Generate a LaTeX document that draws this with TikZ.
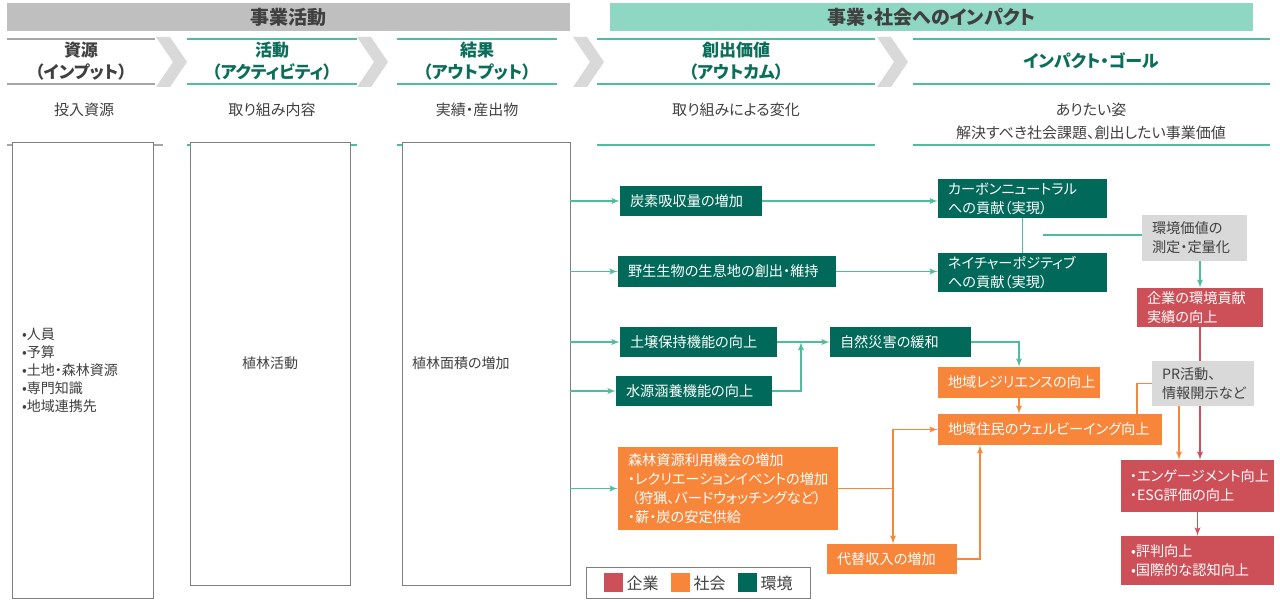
\documentclass[tikz,border=0pt]{standalone}
\usepackage{fontspec}
\setmainfont[RawFeature=+palt]{Noto Sans CJK JP}
\usepackage{xcolor}
\usepackage{tikz}
\usetikzlibrary{shapes,arrows}
\definecolor{envgreen}{HTML}{00695A}
\definecolor{envline}{HTML}{4DBE9D}
\definecolor{impbar}{HTML}{8ED8C3}
\definecolor{bizbar}{HTML}{BFBFBF}
\definecolor{chevgray}{HTML}{D9D9D9}
\definecolor{socorange}{HTML}{F7863B}
\definecolor{corpred}{HTML}{CD4F57}
\definecolor{txtgray}{HTML}{404040}
\definecolor{headgreen}{HTML}{0B6E5B}
\definecolor{framegray}{HTML}{7F7F7F}
\definecolor{rulegray}{HTML}{A6A6A6}
\tikzstyle{bar} = [rectangle, inner sep=0pt, text=txtgray, font=\fontsize{19}{22}\selectfont\bfseries]
\tikzstyle{head} = [align=center, text=headgreen, font=\fontsize{17}{22}\selectfont\bfseries]
\tikzstyle{sub} = [align=center, text=txtgray, font=\fontsize{15}{23}\selectfont]
\tikzstyle{hline} = [line width=1.2pt]
\tikzstyle{column} = [rectangle, draw=framegray, fill=white, line width=0.9pt, align=left, inner xsep=10pt, text=txtgray, font=\fontsize{14}{18}\selectfont]
\tikzstyle{block} = [rectangle, text=white, align=left, inner xsep=10pt, inner ysep=0pt, font=\fontsize{14.2}{19}\selectfont]
\tikzstyle{envblock} = [block, fill=envgreen]
\tikzstyle{socblock} = [block, fill=socorange]
\tikzstyle{corpblock} = [block, fill=corpred]
\tikzstyle{grayblock} = [block, fill=chevgray, text=txtgray]
\tikzstyle{gline} = [draw, envline, line width=1.9pt, -latex']
\tikzstyle{oline} = [draw, socorange, line width=1.9pt, -latex']
\tikzstyle{rline} = [draw, corpred, line width=1.9pt, -latex']

\begin{document}
\begin{tikzpicture}[x=1pt,y=-1pt]
\useasboundingbox (0,0) rectangle (1280,602);
\node [bar, fill=bizbar, minimum width=563, minimum height=28] (bizAct) at (288.5,17) {事業活動};
\node [bar, fill=impbar, minimum width=643, minimum height=28] (impact) at (931.5,17) {事業・社会へのインパクト};
\draw [hline, rulegray] (7,39) -- (155,39) (7,84) -- (155,84) (7,145) -- (163,145);
\draw [hline, envline] (187,39) -- (357,39) (187,84) -- (357,84) (187,145) -- (357,145);
\draw [hline, envline] (397,39) -- (557,39) (397,84) -- (557,84) (397,145) -- (560,145);
\draw [hline, envline] (597,39) -- (875,39) (597,84) -- (875,84) (597,145) -- (875,145);
\draw [hline, envline] (913,39) -- (1270,39) (913,84) -- (1270,84) (913,145) -- (1270,145);
\foreach \x in {156,357,573,877}
  \fill [chevgray] (\x,37) -- ++(14,0) -- ++(17,25) -- ++(-17,25) -- ++(-14,0) -- ++(17,-25) -- cycle;
\node [head, text=txtgray] (inHead) at (81,61) {資源\\（インプット）};
\node [head] (actHead) at (272,61) {活動\\（アクティビティ）};
\node [head] (outHead) at (477,61) {結果\\（アウトプット）};
\node [head] (outcomeHead) at (736,61) {創出価値\\（アウトカム）};
\node [head] (goalHead) at (1091,61) {インパクト・ゴール};
\node [sub] (inSub) at (84,110) {投入資源};
\node [sub] (actSub) at (272,110) {取り組み内容};
\node [sub] (outSub) at (477,110) {実績・産出物};
\node [sub] (outcomeSub) at (736,110) {取り組みによる変化};
\node [sub] (goalSub) at (1091,121.5) {ありたい姿\\解決すべき社会課題、創出したい事業価値};

\node [column, text width=121, minimum height=456] (input) at (82.5,370) {•人員\\•予算\\•土地・森林資源\\•専門知識\\•地域連携先};
\node [column, align=center, text width=140, minimum height=443] (activity) at (270,363.5) {植林活動};
\node [column, text width=148, minimum height=443] (output) at (486,363.5) {植林面積の増加};

\node [envblock, text width=122, minimum height=30] (carbon) at (691,201) {炭素吸収量の増加};
\node [envblock, text width=198, minimum height=31] (habitat) at (727,271.5) {野生生物の生息地の創出・維持};
\node [envblock, text width=137, minimum height=30] (soil) at (698.5,342) {土壌保持機能の向上};
\node [envblock, text width=136, minimum height=30] (water) at (694,391) {水源涵養機能の向上};
\node [socblock, text width=200, minimum height=83] (forestUse) at (728,488.5) {森林資源利用機会の増加\\・レクリエーションイベントの増加\\\hspace{4pt}（狩猟、バードウォッチングなど）\\・薪・炭の安定供給};
\node [envblock, text width=121, minimum height=30] (disaster) at (900.5,342) {自然災害の緩和};
\node [envblock, text width=149, minimum height=39] (carbonNeutral) at (1022.5,198.5) {カーボンニュートラル\\への貢献（実現）};
\node [envblock, text width=149, minimum height=39] (naturePos) at (1022.5,272.5) {ネイチャーポジティブ\\への貢献（実現）};
\node [grayblock, text width=85, minimum height=46] (measure) at (1194.5,238) {環境価値の\\測定・定量化};
\node [corpblock, text width=106, minimum height=39] (corpEnv) at (1200,307.5) {企業の環境貢献\\実績の向上};
\node [socblock, text width=142, minimum height=31] (resilience) at (1019,382.5) {地域レジリエンスの向上};
\node [socblock, text width=204, minimum height=31] (wellbeing) at (1050,429.5) {地域住民のウェルビーイング向上};
\node [corpblock, text width=135, inner xsep=9pt, minimum height=52] (engage) at (1197.5,486) {・エンゲージメント向上\\・ESG評価の向上};
\node [corpblock, text width=133, minimum height=49] (reputation) at (1197.5,560.5) {•評判向上\\•国際的な認知向上};
\node [socblock, text width=110, minimum height=30] (altIncome) at (892,559) {代替収入の増加};

\path [gline] (output.east |- carbon.west) -- (carbon.west);
\path [gline] (output.east |- habitat.west) -- (habitat.west);
\path [gline] (output.east |- soil.west) -- (soil.west);
\path [gline] (output.east |- water.west) -- (water.west);
\path [gline] (output.east |- forestUse.west) -- (forestUse.west);
\path [gline] (carbon.east) -- (carbon.east -| carbonNeutral.west);
\path [gline] (habitat.east) -- (habitat.east -| naturePos.west);
\path [gline, -] (carbonNeutral.south) -- (naturePos.north);
\coordinate (valueTap) at (1043,235);
\path [gline, -] (valueTap) -- (valueTap -| measure.west);
\path [gline] (corpEnv.north |- measure.south) -- (corpEnv.north);
\path [gline] (soil.east) -- (disaster.west);
\coordinate (soilJoin) at (801,342);
\path [gline] (water.east) -| (soilJoin);
\path [gline] (disaster.east) -| (resilience.north);
\path [oline] (resilience.south) -- (resilience.south |- wellbeing.north);
\coordinate (forestSplit) at (893,488.5);
\path [oline, -] (forestUse.east) -- (forestSplit);
\path [oline] (forestSplit) |- (wellbeing.west);
\path [oline] (forestSplit) -- (forestSplit |- altIncome.north);
\path [oline] (altIncome.east) -| ([xshift=-70pt]wellbeing.south);
\path [rline] (corpEnv.south) -- (corpEnv.south |- engage.north);
\node [grayblock, text width=82, minimum height=45] (prWork) at (1203,383.5) {PR活動、\\情報開示など};
\path [oline] ([xshift=-24pt]prWork.south) -- ([xshift=-24pt]prWork.south |- engage.north);
\path [oline, -] (prWork.west) -| ([xshift=87pt]wellbeing.north);
\path [rline] (engage.south) -- (engage.south |- reputation.north);

\node [draw=framegray, fill=white, line width=0.9pt, minimum width=224, minimum height=31, text=txtgray, font=\fontsize{16}{18}\selectfont] (legend) at (698,582.5) {\textcolor{corpred}{\rule[-3pt]{19pt}{19pt}}\hspace{4pt}企業\hspace{12pt}\textcolor{socorange}{\rule[-3pt]{19pt}{19pt}}\hspace{4pt}社会\hspace{12pt}\textcolor{envgreen}{\rule[-3pt]{19pt}{19pt}}\hspace{4pt}環境};
\end{tikzpicture}
\end{document}
